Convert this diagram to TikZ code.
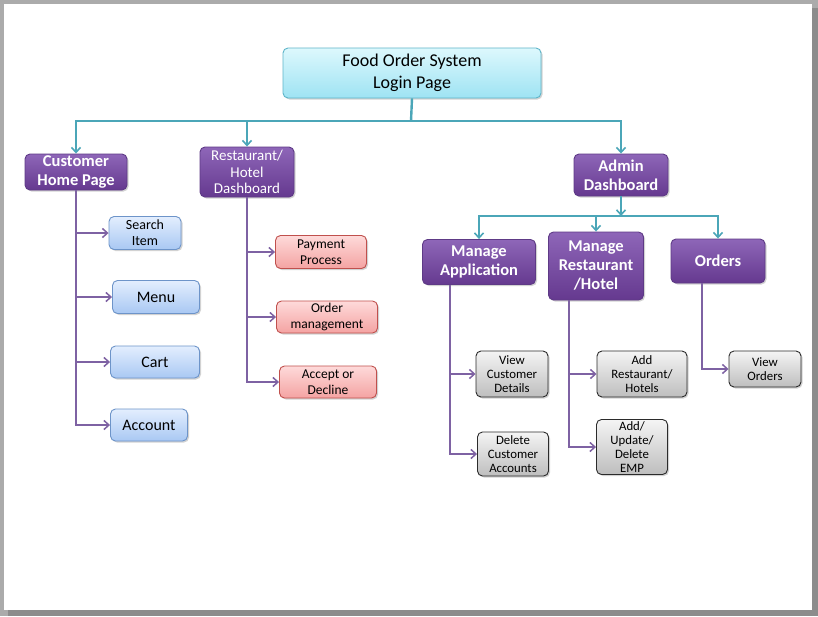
\documentclass[tikz,border=0pt]{standalone}
\usepackage{fontspec}
\setmainfont{Carlito}
\usetikzlibrary{arrows.meta,shadows,calc}
\definecolor{tealc}{HTML}{4BA6B8}
\definecolor{purl}{HTML}{7E62A3}
\definecolor{ptop}{HTML}{8E66B8}
\definecolor{pbot}{HTML}{65398F}
\definecolor{pbrd}{HTML}{5E3A86}
\definecolor{btop}{HTML}{E3EEFE}
\definecolor{bbot}{HTML}{A9C8F3}
\definecolor{bbrd}{HTML}{6D94C9}
\definecolor{rtop}{HTML}{FEDADA}
\definecolor{rbot}{HTML}{F4A3A2}
\definecolor{rbrd}{HTML}{C0504D}
\definecolor{gtop}{HTML}{F4F4F4}
\definecolor{gbot}{HTML}{BEBEBE}
\definecolor{gbrd}{HTML}{2B2B2B}
\definecolor{ctop}{HTML}{DDF8FD}
\definecolor{cbot}{HTML}{9EE3F3}
\definecolor{cbrd}{HTML}{5EB5C9}
\tikzset{
  bx/.style={rounded corners=5pt, align=center, inner sep=1pt, line width=0.9pt,
    drop shadow={opacity=0.35, shadow xshift=1.5pt, shadow yshift=-1.5pt}},
  pbox/.style={bx, top color=ptop, bottom color=pbot, draw=pbrd, text=white,
    font=\bfseries\fontsize{16.5}{19}\selectfont},
  bbox/.style={bx, top color=btop, bottom color=bbot, draw=bbrd,
    font=\fontsize{14}{16}\selectfont},
  rbox/.style={bx, top color=rtop, bottom color=rbot, draw=rbrd,
    font=\fontsize{13.5}{16}\selectfont},
  gbox/.style={bx, top color=gtop, bottom color=gbot, draw=gbrd,
    font=\fontsize{12.8}{14}\selectfont},
  cbox/.style={bx, top color=ctop, bottom color=cbot, draw=cbrd,
    font=\fontsize{18}{22}\selectfont},
  tarr/.style={draw=tealc, line width=2.4pt, -{Straight Barb[length=5pt,width=9pt,line width=1.6pt]}},
  tline/.style={draw=tealc, line width=2.4pt},
  parr/.style={draw=purl, line width=2pt, -{Straight Barb[length=5pt,width=9pt,line width=1.5pt]}},
}
\begin{document}
\begin{tikzpicture}[x=1pt,y=-1pt]
\useasboundingbox (0,0) rectangle (818,616);
\fill[black!33] (0,0) rectangle (818,616);
\fill[black!45] (8,8) rectangle (818,616);
\fill[white] (4,4) rectangle (812,610);

% root
\node[cbox, minimum width=258pt, minimum height=50pt] (root) at (412,73) {Food Order System\\Login Page};

% level 1
\node[pbox, minimum width=102pt, minimum height=36pt] (cust) at (76,172) {Customer\\Home Page};
\node[pbox, minimum width=94pt, minimum height=50pt, font=\fontsize{15}{16.5}\selectfont] (rest) at (247,172) {Restaurant/\\Hotel\\Dashboard};
\node[pbox, minimum width=94pt, minimum height=42pt] (admin) at (621,175) {Admin\\Dashboard};

% level 2 admin
\node[pbox, minimum width=113pt, minimum height=45pt] (mapp) at (479,262) {Manage\\Application};
\node[pbox, minimum width=95pt, minimum height=68pt] (mrest) at (596,266) {Manage\\Restaurant\\/Hotel};
\node[pbox, minimum width=94pt, minimum height=44pt] (ord) at (718,261) {Orders};

% customer children
\node[bbox, minimum width=72pt, minimum height=33pt] (search) at (145,233) {Search\\Item};
\node[bbox, minimum width=87pt, minimum height=33pt, font=\fontsize{16}{18}\selectfont] (menu) at (156,297) {Menu};
\node[bbox, minimum width=89pt, minimum height=32pt, font=\fontsize{16}{18}\selectfont] (cart) at (155,362) {Cart};
\node[bbox, minimum width=77pt, minimum height=32pt, font=\fontsize{16}{18}\selectfont] (acct) at (149,425) {Account};

% restaurant children
\node[rbox, minimum width=91pt, minimum height=33pt] (pay) at (321,252) {Payment\\Process};
\node[rbox, minimum width=101pt, minimum height=32pt] (omg) at (327,317) {Order\\management};
\node[rbox, minimum width=97pt, minimum height=32pt] (acc) at (328,382) {Accept or\\Decline};

% admin grandchildren
\node[gbox, minimum width=72pt, minimum height=46pt] (vcd) at (512,374) {View\\Customer\\Details};
\node[gbox, minimum width=71pt, minimum height=44pt] (dca) at (513,454) {Delete\\Customer\\Accounts};
\node[gbox, minimum width=90pt, minimum height=46pt] (arh) at (642,374) {Add\\Restaurant/\\Hotels};
\node[gbox, minimum width=71pt, minimum height=55pt, inner sep=0pt] (aud) at (632,447) {Add/\\Update/\\Delete\\EMP};
\node[gbox, minimum width=72pt, minimum height=36pt] (vo) at (765,369) {View\\Orders};

% teal connectors
\coordinate (bus) at (411,121);
\draw[tline] (root.south) -- (bus);
\draw[tarr] (bus) -| (cust.north);
\draw[tarr] (bus) -| (rest.north);
\draw[tarr] (bus) -| (admin.north);
\coordinate (abus) at (621,216);
\draw[tarr] (admin.south) -- (abus);
\draw[tarr] (abus) -| (mapp.north);
\draw[tarr] (abus) -| (mrest.north);
\draw[tarr] (abus) -| (ord.north);

% purple connectors
\draw[parr] (cust.south) |- (search.west);
\draw[parr] (cust.south) |- (menu.west);
\draw[parr] (cust.south) |- (cart.west);
\draw[parr] (cust.south) |- (acct.west);
\draw[parr] (rest.south) |- (pay.west);
\draw[parr] (rest.south) |- (omg.west);
\draw[parr] (rest.south) |- (acc.west);
\coordinate (mas) at (450,285);
\draw[parr] (mas) |- (vcd.west);
\draw[parr] (mas) |- (dca.west);
\coordinate (mrs) at (569,300);
\draw[parr] (mrs) |- (arh.west);
\draw[parr] (mrs) |- (aud.west);
\coordinate (os) at (702,283);
\draw[parr] (os) |- (vo.west);
\end{tikzpicture}
\end{document}
